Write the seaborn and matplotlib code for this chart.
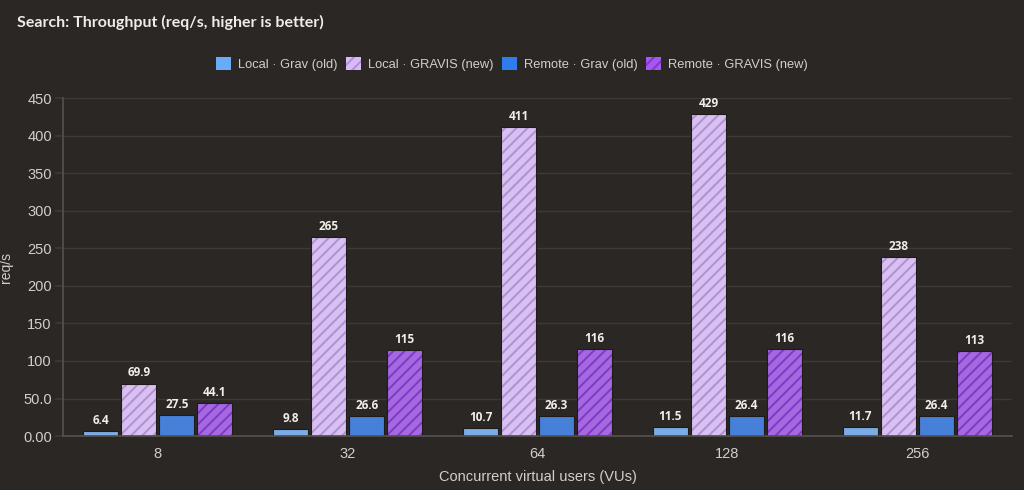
import numpy as np
import pandas as pd
import seaborn as sns
import matplotlib
matplotlib.use("Agg")
import matplotlib.pyplot as plt
import matplotlib.colors as mcolors
from matplotlib.patches import Patch

# data
users = ["8", "32", "64", "128", "256"]
series = ["Local · Grav (old)", "Local · GRAVIS (new)",
          "Remote · Grav (old)", "Remote · GRAVIS (new)"]
local_old = [6.4, 9.8, 10.7, 11.5, 11.7]
local_new = [69.9, 265, 411, 429, 238]
remote_old = [27.5, 26.6, 26.3, 26.4, 26.4]
remote_new = [44.1, 115, 116, 116, 113]
yticks = [0, 50, 100, 150, 200, 250, 300, 350, 400, 450]
ytick_labels = ["0.00", "50.0", "100", "150", "200", "250", "300", "350", "400", "450"]

colors = ["#6aabf7", "#d9b8fb", "#2f7bf0", "#a656f2"]
hatch_colors = [None, "#ae92cf", None, "#8038c8"]
bg = "#2b2724"
grid_c = "#3d3935"
text_c = "#d2cec9"

df = pd.DataFrame({
    "users": users * 4,
    "series": np.repeat(series, len(users)),
    "value": local_old + local_new + remote_old + remote_new,
})

sns.set_theme(style="dark")
plt.rcParams["font.family"] = ["Liberation Sans", "DejaVu Sans"]
plt.rcParams["hatch.linewidth"] = 1.4


def set_hatch_color(p, c):
    # matplotlib < 3.11 ties hatch colour to edge colour
    if hasattr(p, "set_hatchcolor"):
        p.set_hatchcolor(c)
    else:
        p._hatch_color = mcolors.to_rgba(c)
    p.stale = True


fig = plt.figure(figsize=(10.24, 4.9), dpi=100, facecolor=bg)
ax = fig.add_axes([0.0615, 0.110, 0.927, 0.690])
ax.set_facecolor(bg)

sns.barplot(data=df, x="users", y="value", hue="series", order=users,
            hue_order=series, palette=colors, width=0.8, gap=0.08,
            edgecolor="#1e1b19", linewidth=0.8, legend=False, ax=ax)

# hatch the "new" series
for i, cont in enumerate(ax.containers):
    if hatch_colors[i] is None:
        continue
    for p in cont.patches:
        p.set_hatch("///")
        set_hatch_color(p, hatch_colors[i])

# value labels
for i, cont in enumerate(ax.containers):
    vals = df[df.series == series[i]]["value"].tolist()
    labs = [f"{v:.1f}" if v < 100 else f"{v:.0f}" for v in vals]
    ax.bar_label(cont, labels=labs, padding=3, color="#f2efe9",
                 fontsize=8.5, fontweight="bold", family="Open Sans")

ax.set_ylim(0, 450)
ax.set_yticks(yticks)
ax.set_yticklabels(ytick_labels)
ax.grid(axis="y", color=grid_c, linewidth=1)
ax.set_axisbelow(True)
for s in ["top", "right"]:
    ax.spines[s].set_visible(False)
ax.spines["left"].set_color("#55504b")
ax.spines["bottom"].set_color("#55504b")
ax.tick_params(axis="y", colors=text_c, labelsize=10.5, length=6,
               color=grid_c, left=True, pad=2)
ax.tick_params(axis="x", colors=text_c, labelsize=10.5, length=0, pad=8)
ax.set_xlabel("Concurrent virtual users (VUs)", color=text_c, fontsize=10.5, labelpad=6)
ax.set_ylabel("req/s", color=text_c, fontsize=10)
ax.yaxis.set_label_coords(-0.053, 0.5)

fig.text(0.017, 0.955, "Search: Throughput (req/s, higher is better)",
         color="#f0ede8", fontsize=11.5, fontweight="bold", family="Lato",
         va="center", ha="left")

handles = []
for i, name in enumerate(series):
    h = Patch(facecolor=colors[i], edgecolor="none", linewidth=0, label=name)
    if hatch_colors[i]:
        h.set_hatch("///")
        set_hatch_color(h, hatch_colors[i])
    handles.append(h)
fig.legend(handles=handles, loc="center", bbox_to_anchor=(0.5, 0.869), ncol=4,
           frameon=False, fontsize=9.3, labelcolor=text_c, handlelength=1.15,
           handleheight=1.15, handletextpad=0.55, columnspacing=0.65)

fig.savefig("out.png", dpi=100, facecolor=bg)
